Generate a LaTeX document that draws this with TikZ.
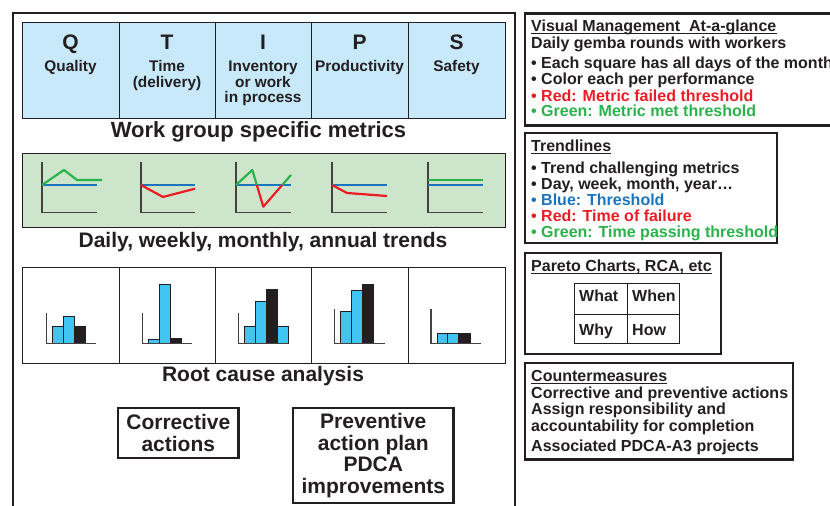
\documentclass[tikz,border=0pt]{standalone}
\usepackage{fontspec}
\setmainfont{Liberation Sans}
\definecolor{ink}{HTML}{231F20}
\definecolor{cellblue}{HTML}{C8E9F9}
\definecolor{cellgreen}{HTML}{CDE6CB}
\definecolor{barblue}{HTML}{40C4F1}
\definecolor{fred}{HTML}{ED1C24}
\definecolor{fgreen}{HTML}{2BB24C}
\definecolor{fblue}{HTML}{1C75BC}
\newcommand\fsz[2]{\fontsize{#1}{#2}\selectfont}
\tikzset{
  frame/.style={draw=ink, line width=2.4pt},
  boxframe/.style={draw=ink, line width=2.6pt},
  cell/.style={draw=ink, line width=1pt},
  axisline/.style={draw=ink!85, line width=1.3pt},
  redline/.style={draw=fred, line width=2.2pt, line join=round},
  grnline/.style={draw=fgreen, line width=2.2pt, line join=round},
  thrline/.style={draw=fblue, line width=1.2pt},
  bbar/.style={draw=ink, line width=0.9pt, fill=barblue},
  kbar/.style={draw=ink, line width=0.9pt, fill=ink},
  letter/.style={inner sep=0pt, anchor=base, text=ink, font=\bfseries\fsz{21}{22}},
  sub/.style={inner sep=0pt, anchor=base, text=ink, align=center, font=\bfseries\fsz{15.4}{15.5}},
  heading/.style={inner sep=0pt, anchor=base, text=ink, font=\bfseries\fsz{21}{22}},
  actionbox/.style={draw=ink, line width=2.2pt, inner sep=0pt, text=ink, align=center, font=\bfseries\fsz{21}{21.5}},
  rtxt/.style={inner sep=0pt, anchor=base west, text=ink, font=\bfseries\fsz{16}{17}},
  uline/.style={draw=ink, line width=1.1pt}
}
\begin{document}
\begin{tikzpicture}[x=1pt,y=-1pt]
\useasboundingbox (0,0) rectangle (830,506);
\clip (0,0) rectangle (830,506);
% outer frame
\draw[frame] (13,13) rectangle (515,520);

% ---------- metrics table ----------
\fill[cellblue] (22,22) rectangle (505,118);
\foreach \x in {119,215,311,408} \draw[cell] (\x,22) -- (\x,118);
\draw[cell] (22,22) rectangle (505,118);
\node[letter] (lq) at (70.5,49) {Q};
\node[letter] (lt) at (167,49) {T};
\node[letter] (li) at (263,49) {I};
\node[letter] (lp) at (359.5,49) {P};
\node[letter] (ls) at (456.5,49) {S};
% base anchor of a multi-line node = baseline of its last line
\node[sub] (sq) at (70.5,71.5) {Quality};
\node[sub] (st) at (167,87) {Time\\(delivery)};
\node[sub] (si) at (263,102.5) {Inventory\\or work\\in process};
\node[sub] (sp) at (359.5,71.5) {Productivity};
\node[sub] (ss) at (456.5,71.5) {Safety};
\node[heading, font=\bfseries\fsz{22}{23}] (h1) at (258.5,137) {Work group specific metrics};

% ---------- trends ----------
\draw[cell, fill=cellgreen] (22,153) rectangle (505,227);
% chart 1
\draw[axisline] (42,162) -- (42,212.7) -- (97,212.7);
\draw[thrline] (42,185) -- (97,185);
\draw[grnline] (42,185) -- (64,170) -- (77,180) -- (102,180);
% chart 2
\draw[axisline] (141,162) -- (141,212.7) -- (195,212.7);
\draw[thrline] (141,185) -- (195,185);
\draw[redline] (141,185) -- (163,197) -- (195,188.7);
% chart 3
\draw[axisline] (236,162) -- (236,212.7) -- (291,212.7);
\draw[thrline] (236,185) -- (291,185);
\draw[grnline] (236,185) -- (252.3,170) -- (256.8,185);
\draw[redline] (256.8,185) -- (263.3,206.7) -- (282.2,185);
\draw[grnline] (282.2,185) -- (291,175);
% chart 4
\draw[axisline] (332,162) -- (332,212.7) -- (387,212.7);
\draw[thrline] (332,185) -- (387,185);
\draw[redline] (332,185) -- (347,193) -- (387,196);
% chart 5
\draw[axisline] (428,162) -- (428,212.7) -- (483,212.7);
\draw[thrline] (428,185) -- (483,185);
\draw[grnline] (428,180) -- (483,180);
\node[heading] (h2) at (263,247) {Daily, weekly, monthly, annual trends};

% ---------- root cause ----------
\draw[cell] (22,267) rectangle (505,363);
\foreach \x in {119,215,311,408} \draw[cell] (\x,267) -- (\x,363);
% chart 1
\draw[bbar] (52,343.3) rectangle (63,326.7);
\draw[bbar] (63,343.3) rectangle (74,316.7);
\draw[kbar] (74,343.3) rectangle (85,326.7);
\draw[axisline] (46.3,313) -- (46.3,343.3) -- (96.3,343.3);
% chart 2
\draw[bbar] (148.3,343.3) rectangle (159,339.3);
\draw[bbar] (159,343.3) rectangle (170,284.3);
\draw[kbar] (170,343.3) rectangle (181,338.7);
\draw[axisline] (142.3,313) -- (142.3,343.3) -- (192.3,343.3);
% chart 3
\draw[bbar] (244.7,343.3) rectangle (255.3,326.7);
\draw[bbar] (255.3,343.3) rectangle (266,301);
\draw[kbar] (266,343.3) rectangle (277,289.7);
\draw[bbar] (277,343.3) rectangle (288,326.7);
\draw[axisline] (238.7,313) -- (238.7,343.3) -- (288.7,343.3);
% chart 4
\draw[bbar] (340.3,343.3) rectangle (351.7,311.7);
\draw[bbar] (351.7,343.3) rectangle (362.3,290);
\draw[kbar] (362.3,343.3) rectangle (373.7,284.3);
\draw[axisline] (334.3,308.7) -- (334.3,343.3) -- (385,343.3);
% chart 5
\draw[bbar] (437,343.3) rectangle (447.7,333);
\draw[bbar] (447.7,343.3) rectangle (458.3,333);
\draw[kbar] (458.3,343.3) rectangle (470,333);
\draw[axisline] (431,308.7) -- (431,343.3) -- (481,343.3);
\node[heading] (h3) at (263,381) {Root cause analysis};

% ---------- action boxes ----------
\node[actionbox, minimum width=120.5pt, minimum height=49.4pt] (corr) at (178.3,433) {Corrective\\actions};
\node[actionbox, minimum width=160.5pt, minimum height=95pt] (prev) at (373.3,455.8) {Preventive\\action plan\\PDCA\\improvements};

% ---------- right boxes ----------
% box 1
\draw[boxframe] (525,13.5) rectangle (845,125.7);
\node[rtxt] (v1) at (531,31.5) {Visual Management\ \ At-a-glance};
\draw[uline] ([yshift=-1.8pt]v1.base west) -- ([yshift=-1.8pt]v1.base east);
\node[rtxt] (v2) at (531,48) {Daily gemba rounds with workers};
\node[rtxt] (v3) at (531,68) {• Each square has all days of the month};
\node[rtxt] (v4) at (531,84.3) {• Color each per performance};
\node[rtxt, text=fred] (v5) at (531,101) {• Red: Metric failed threshold};
\node[rtxt, text=fgreen] (v6) at (531,116.7) {• Green: Metric met threshold};
% box 2
\draw[boxframe] (525,133) rectangle (777,243);
\node[rtxt] (t1) at (531,151.5) {Trendlines};
\draw[uline] ([yshift=-1.8pt]t1.base west) -- ([yshift=-1.8pt]t1.base east);
\node[rtxt] (t2) at (531,173) {• Trend challenging metrics};
\node[rtxt] (t3) at (531,189) {• Day, week, month, year…};
\node[rtxt, text=fblue] (t4) at (531,205) {• Blue: Threshold};
\node[rtxt, text=fred] (t5) at (531,221) {• Red: Time of failure};
\node[rtxt, text=fgreen] (t6) at (531,237.7) {• Green: Time passing threshold};
% box 3
\draw[boxframe] (525,253) rectangle (721,354);
\node[rtxt] (p1) at (531,271.5) {Pareto Charts, RCA, etc};
\draw[uline] ([yshift=-1.8pt]p1.base west) -- ([yshift=-1.8pt]p1.base east);
\draw[cell] (574.3,283.3) rectangle (679,343.3);
\draw[cell] (627,283.3) -- (627,343.3);
\draw[cell] (574.3,314) -- (679,314);
\node[rtxt] (pw) at (579,301.5) {What};
\node[rtxt] (pn) at (632,301.5) {When};
\node[rtxt] (py) at (579,335) {Why};
\node[rtxt] (ph) at (632,335) {How};
% box 4
\draw[boxframe] (525,363) rectangle (793,459.7);
\node[rtxt] (c1) at (531,381.5) {Countermeasures};
\draw[uline] ([yshift=-1.8pt]c1.base west) -- ([yshift=-1.8pt]c1.base east);
\node[rtxt] (c2) at (531,398) {Corrective and preventive actions};
\node[rtxt] (c3) at (531,414.5) {Assign responsibility and};
\node[rtxt] (c4) at (531,431) {accountability for completion};
\node[rtxt] (c5) at (531,451.7) {Associated PDCA-A3 projects};
\end{tikzpicture}
\end{document}
